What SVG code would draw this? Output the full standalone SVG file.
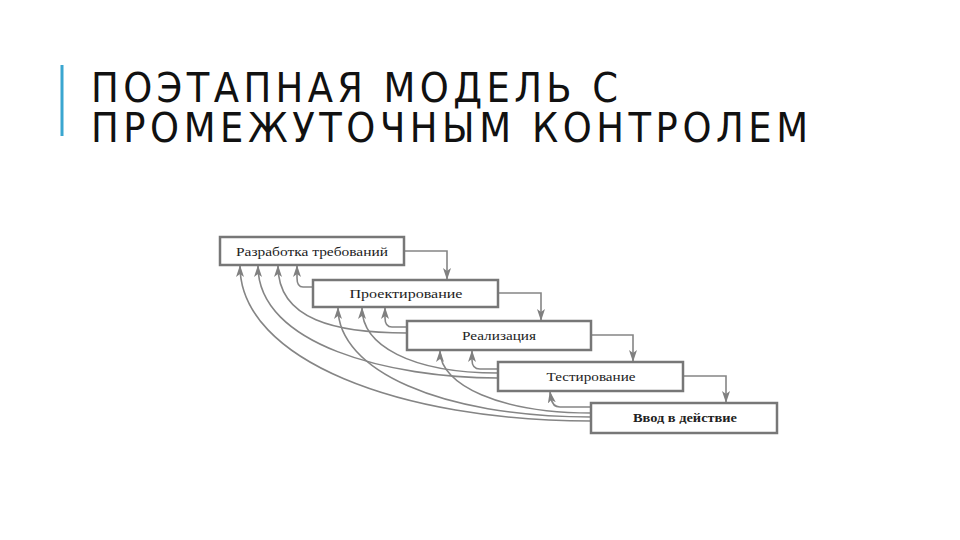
<svg xmlns="http://www.w3.org/2000/svg" width="960" height="540" viewBox="0 0 960 540">
<style>
.title{font-family:"DejaVu Sans Condensed","DejaVu Sans",sans-serif;font-stretch:condensed;font-size:41px;fill:#111}
.box{fill:#fff;stroke:#777;stroke-width:2.5}
.lbl{font-family:"Liberation Serif","DejaVu Serif",serif;font-size:13.5px;fill:#222;text-anchor:middle}
.ln{fill:none;stroke:#858585;stroke-width:1.6}
</style>
<defs>
<marker id="ah" viewBox="0 0 12 8" markerWidth="12" markerHeight="8" refX="11" refY="4" orient="auto" markerUnits="userSpaceOnUse">
<path d="M0,0 L12,4 L0,8 L3,4 z" fill="#808080"/>
</marker>
</defs>
<rect width="960" height="540" fill="#fff"/>
<rect x="60.5" y="65" width="3" height="71" fill="#3aa6d0"/>
<text class="title" x="91" y="102" textLength="527" lengthAdjust="spacing">ПОЭТАПНАЯ МОДЕЛЬ С</text>
<text class="title" x="91" y="142" textLength="717" lengthAdjust="spacing">ПРОМЕЖУТОЧНЫМ КОНТРОЛЕМ</text>

<g id="connectors">
<path class="ln" d="M404,251 H447 V279" marker-end="url(#ah)"/>
<path class="ln" d="M498,293 H541 V320" marker-end="url(#ah)"/>
<path class="ln" d="M591,335 H633 V361" marker-end="url(#ah)"/>
<path class="ln" d="M683,376 H726 V402" marker-end="url(#ah)"/>

<path class="ln" d="M313,287 L303,287 C299,287 297,284 297,278 L297,266" marker-end="url(#ah)"/>
<path class="ln" d="M407,333 C336,333 278,320 278,266" marker-end="url(#ah)"/>
<path class="ln" d="M498,378 C390,378 258,345 258,266" marker-end="url(#ah)"/>
<path class="ln" d="M591,421 C400,421 240,360 240,266" marker-end="url(#ah)"/>

<path class="ln" d="M407,327 L392,327 C388,327 385,324 385,318 L385,308" marker-end="url(#ah)"/>
<path class="ln" d="M498,373 C410,373 362,345 362,308" marker-end="url(#ah)"/>
<path class="ln" d="M591,417 C440,417 338,370 338,308" marker-end="url(#ah)"/>

<path class="ln" d="M498,369 L480,369 C475,369 472,366 472,360 L472,351" marker-end="url(#ah)"/>
<path class="ln" d="M591,413 C500,413 440,385 440,351" marker-end="url(#ah)"/>

<path class="ln" d="M591,407 L560,407 C555,407 552,404 551,398 L550,392" marker-end="url(#ah)"/>
</g>

<g id="n1"><rect class="box" x="220" y="237" width="184" height="28"/><text class="lbl" x="312" y="255.5" textLength="152" lengthAdjust="spacingAndGlyphs">Разработка требований</text></g>
<g id="n2"><rect class="box" x="313" y="280" width="185" height="27"/><text class="lbl" x="406" y="298" textLength="113" lengthAdjust="spacingAndGlyphs">Проектирование</text></g>
<g id="n3"><rect class="box" x="407" y="321" width="184" height="29"/><text class="lbl" x="499" y="339.5" textLength="74" lengthAdjust="spacingAndGlyphs">Реализация</text></g>
<g id="n4"><rect class="box" x="498" y="362" width="185" height="29"/><text class="lbl" x="591" y="380.5" textLength="89" lengthAdjust="spacingAndGlyphs">Тестирование</text></g>
<g id="n5"><rect class="box" x="591" y="403" width="186" height="30"/><text class="lbl" x="685" y="422" font-weight="bold" textLength="104" lengthAdjust="spacingAndGlyphs">Ввод в действие</text></g>
</svg>
